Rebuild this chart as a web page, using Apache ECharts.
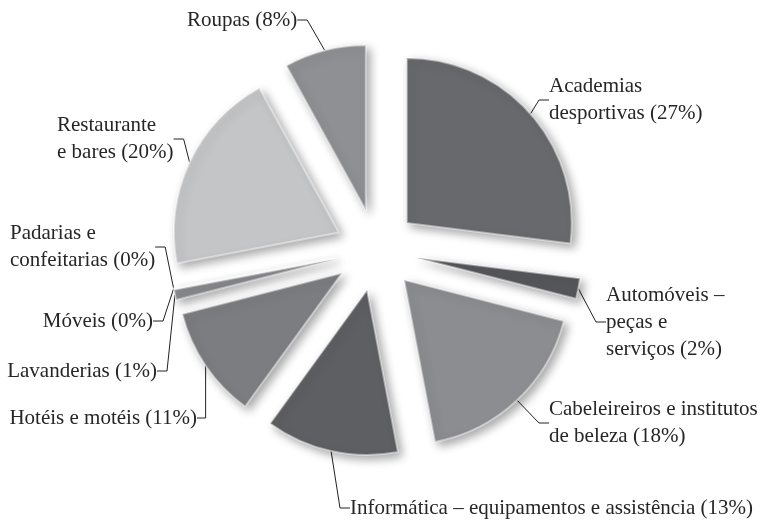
<!DOCTYPE html>
<html lang="pt">
<head>
    <meta charset="UTF-8">
    <title>Segmentos</title>
    <script src="https://cdn.jsdelivr.net/npm/echarts@6/dist/echarts.min.js"></script>
    <style>
        html, body { margin: 0; padding: 0; background: #ffffff; }
        #chart { width: 766px; height: 520px; }
    </style>
</head>
<body>
    <div id="chart"></div>
    <script>
        // data (percent share per segment)
        const categories = [
            'Academias\ndesportivas',
            'Automóveis –\npeças e\nserviços',
            'Cabeleireiros e institutos\nde beleza',
            'Informática – equipamentos e assistência',
            'Hotéis e motéis',
            'Lavanderias',
            'Móveis',
            'Padarias e\nconfeitarias',
            'Restaurante\ne bares',
            'Roupas'
        ];
        const shares = [27, 2, 18, 13, 11, 1, 0, 0, 20, 8];
        const sliceColors = ['#68696d', '#56575b', '#8c8d91', '#5e5f63', '#7c7d81',
                             '#8e8f93', '#88898d', '#a9aaae', '#c4c5c7', '#8f9094'];

        // where each label sits: [x, y, align]
        const labelSpots = [
            [549, 100, 'left'],
            [606, 322, 'left'],
            [549, 423, 'left'],
            [350, 508, 'left'],
            [197, 418, 'right'],
            [157, 371, 'right'],
            [153, 321, 'right'],
            [10, 247, 'left'],
            [57, 139, 'left'],
            [187, 20, 'left']
        ];

        const pieCenter = [376, 250];
        const pieRadius = 165;
        const explode = 41;

        const chart = echarts.init(document.getElementById('chart'));

        // exploded slices
        const sliceData = categories.map((name, i) => ({
            name: name,
            value: shares[i],
            selected: true,
            itemStyle: { color: sliceColors[i] }
        }));

        // same data again, invisible, only to carry the labels and leader lines
        const labelData = categories.map((name, i) => ({ name: name, value: shares[i] }));

        chart.setOption({
            backgroundColor: '#ffffff',
            animation: false,
            series: [{
                type: 'pie',
                center: pieCenter,
                radius: [0, pieRadius],
                startAngle: 90,
                clockwise: true,
                selectedMode: 'multiple',
                selectedOffset: explode,
                data: sliceData,
                itemStyle: {
                    borderColor: 'rgba(255,255,255,0.45)',
                    borderWidth: 2,
                    borderJoin: 'round',
                    shadowBlur: 10,
                    shadowOffsetX: 4,
                    shadowOffsetY: 4,
                    shadowColor: 'rgba(0,0,0,0.35)'
                },
                label: { show: false },
                labelLine: { show: false },
                emphasis: { disabled: true },
                silent: true
            }, {
                type: 'pie',
                center: pieCenter,
                radius: [0, pieRadius + explode],
                startAngle: 90,
                clockwise: true,
                avoidLabelOverlap: false,
                data: labelData,
                itemStyle: { color: 'rgba(0,0,0,0)', borderWidth: 0 },
                label: {
                    show: true,
                    position: 'outside',
                    fontFamily: 'Liberation Serif',
                    fontSize: 21,
                    lineHeight: 27,
                    color: '#262626',
                    formatter: p => p.name + ' (' + Math.round(p.value) + '%)'
                },
                labelLine: {
                    show: true,
                    length: 8,
                    length2: 10,
                    lineStyle: { color: '#222', width: 1 }
                },
                labelLayout: function (params) {
                    const s = labelSpots[params.dataIndex];
                    return {
                        x: s[0],
                        y: s[1],
                        align: s[2],
                        verticalAlign: 'middle'
                    };
                },
                emphasis: { disabled: true },
                silent: true
            }]
        });
    </script>
</body>
</html>
